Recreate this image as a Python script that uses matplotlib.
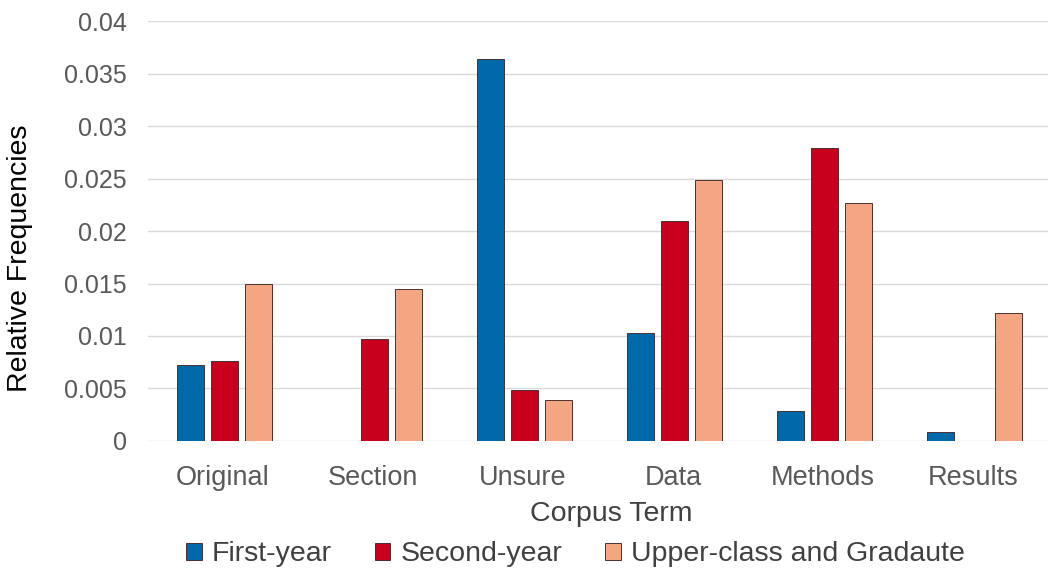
import matplotlib.pyplot as plt
import numpy as np

plt.rcParams['font.family'] = ['Liberation Sans', 'DejaVu Sans']

terms = ['Original', 'Section', 'Unsure', 'Data', 'Methods', 'Results']
first_year = [0.0072, 0.0, 0.0364, 0.0103, 0.0029, 0.0009]
second_year = [0.0076, 0.0097, 0.0049, 0.0210, 0.0279, 0.0]
upper_class = [0.0150, 0.0145, 0.0039, 0.0249, 0.0227, 0.0122]
series_names = ['First-year', 'Second-year', 'Upper-class and Gradaute']
colors = ['#0069AA', '#C8001E', '#F4A582']

fig = plt.figure(figsize=(10.63, 5.69), dpi=100)
ax = fig.add_axes([0.139, 0.225, 0.847, 0.738])

x = np.arange(len(terms))
w = 0.18
step = 0.227
for i, (vals, name, c) in enumerate(zip([first_year, second_year, upper_class], series_names, colors)):
    ax.bar(x + (i - 1) * step + 0.01, vals, width=w, color=c, edgecolor='#4a3030',
           linewidth=0.7, label=name, zorder=3)

ax.set_xlim(-0.5, len(terms) - 0.5)
ax.set_ylim(0, 0.04)
ax.set_yticks(np.arange(0, 0.0401, 0.005))
ax.set_yticklabels(['0', '0.005', '0.01', '0.015', '0.02', '0.025', '0.03', '0.035', '0.04'])
ax.set_xticks(x)
ax.set_xticklabels(terms)
ax.tick_params(axis='both', length=0, labelcolor='#595959')
ax.tick_params(axis='x', pad=17, labelsize=19.5)
ax.tick_params(axis='y', pad=15, labelsize=18)
ax.grid(axis='y', color='#D9D9D9', linewidth=1, zorder=0)
for s in ax.spines.values():
    s.set_visible(False)

ax.set_xlabel('Corpus Term', fontsize=20.5, color='#404040')
ax.xaxis.set_label_coords(0.515, -0.142)
ax.set_ylabel('Relative Frequencies', fontsize=20.5, color='black')
ax.yaxis.set_label_coords(-0.128, 0.436)

ax.legend(loc='center', bbox_to_anchor=(0.475, -0.27), ncol=3, frameon=False,
          fontsize=20.5, labelcolor='#404040', handlelength=0.55, handleheight=0.55,
          handletextpad=0.35, columnspacing=1.5)

fig.savefig('out.png', dpi=100)
